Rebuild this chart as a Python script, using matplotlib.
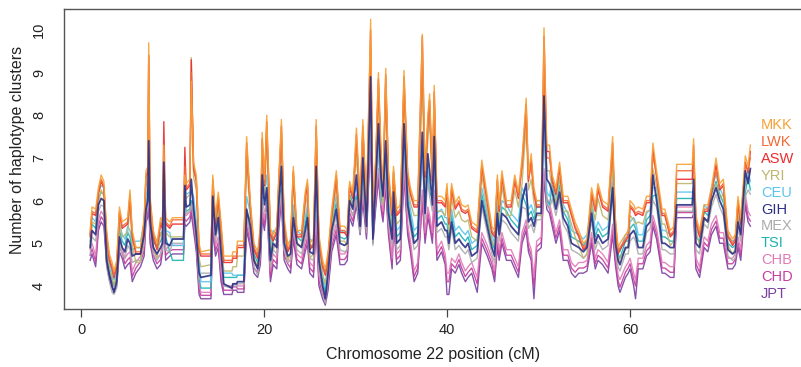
import matplotlib
matplotlib.use("Agg")
import matplotlib.pyplot as plt

plt.rcParams['font.family'] = ['Liberation Sans', 'DejaVu Sans']

position_cM = [
    1.0, 1.2, 1.6, 1.9, 2.2, 2.5, 2.8, 3.1, 3.4, 3.6,
    3.9, 4.2, 4.5, 4.8, 5.1, 5.35, 5.6, 6.0, 6.5, 6.9,
    7.1, 7.3, 7.4, 7.55, 7.9, 8.3, 8.7, 8.9, 9.05, 9.25,
    9.7, 10.0, 11.2, 11.35, 11.5, 11.9, 12.05, 12.3, 12.6, 12.9,
    13.1, 14.2, 14.4, 14.7, 15.0, 15.3, 15.6, 16.5, 16.6, 17.0,
    17.1, 17.8, 18.1, 18.5, 18.9, 19.3, 19.6, 19.8, 20.05, 20.3,
    20.7, 21.0, 21.4, 21.6, 21.9, 22.2, 22.6, 22.9, 23.2, 23.6,
    24.1, 24.5, 24.75, 25.0, 25.4, 25.7, 26.0, 26.4, 26.7, 27.0,
    27.4, 27.9, 28.3, 28.8, 29.1, 29.35, 29.7, 30.1, 30.5, 30.8,
    31.2, 31.65, 31.9, 32.2, 32.5, 32.8, 33.0, 33.3, 33.6, 34.0,
    34.15, 34.5, 34.9, 35.3, 35.7, 36.0, 36.4, 36.8, 37.3, 37.6,
    37.9, 38.1, 38.4, 38.6, 38.9, 39.4, 39.8, 40.0, 40.2, 40.5,
    40.9, 41.3, 41.6, 42.0, 42.3, 42.7, 43.3, 43.8, 44.4, 44.9,
    45.2, 45.5, 45.7, 46.0, 46.5, 47.0, 47.4, 47.8, 48.2, 48.65,
    48.9, 49.2, 49.5, 49.8, 50.3, 50.6, 50.9, 51.2, 51.5, 51.9,
    52.3, 52.7, 53.2, 53.6, 54.0, 54.4, 54.9, 55.3, 55.8, 56.2,
    56.5, 57.0, 57.6, 58.1, 58.4, 58.7, 58.9, 59.5, 59.8, 60.0,
    60.4, 60.6, 60.9, 61.4, 61.8, 62.2, 62.5, 62.9, 63.5, 63.8,
    64.4, 64.8, 65.1, 66.8, 66.95, 67.2, 67.6, 68.1, 68.5, 68.9,
    69.4, 69.8, 70.2, 70.7, 71.2, 71.5, 71.8, 72.1, 72.6, 72.9, 73.15,
]

MKK = [
    5.3, 5.85, 5.8, 6.3, 6.6, 6.45, 5.3, 4.75, 4.55, 4.35,
    4.6, 5.85, 5.5, 5.55, 5.6, 6.25, 5.3, 4.9, 4.9, 5.6,
    6.7, 6.8, 9.7, 6.1, 5.3, 5.0, 5.6, 5.5, 7.3, 5.6,
    5.5, 5.6, 5.6, 6.6, 6.4, 6.5, 8.8, 6.9, 6.6, 5.0,
    4.8, 4.85, 6.6, 5.6, 6.2, 5.5, 4.7, 4.7, 4.8, 4.8,
    5.05, 5.05, 7.5, 6.0, 5.0, 4.8, 5.4, 7.6, 6.5, 8.0,
    5.35, 5.2, 5.4, 6.5, 7.9, 5.6, 4.95, 5.1, 6.8, 5.3,
    5.3, 6.2, 6.5, 5.0, 5.1, 7.9, 5.2, 4.6, 4.4, 4.8,
    5.8, 6.7, 5.4, 5.4, 5.3, 6.45, 6.2, 7.7, 6.0, 7.9,
    5.9, 10.25, 6.0, 7.0, 9.0, 7.1, 6.3, 9.1, 6.7, 5.8,
    6.8, 5.8, 5.9, 9.05, 6.7, 6.3, 6.0, 6.0, 9.9, 6.7,
    8.0, 8.5, 6.6, 8.7, 6.1, 6.1, 6.0, 6.4, 5.6, 6.4,
    5.95, 6.1, 5.9, 5.85, 5.9, 5.5, 5.4, 6.95, 6.1, 5.4,
    5.3, 6.6, 5.9, 6.7, 6.0, 6.0, 6.6, 6.2, 7.0, 8.4,
    6.6, 7.1, 6.3, 6.0, 6.0, 10.05, 7.3, 7.3, 6.6, 6.3,
    6.9, 6.1, 6.1, 5.8, 5.5, 5.3, 5.0, 5.1, 6.3, 5.9,
    6.4, 6.0, 5.9, 7.5, 5.6, 4.9, 5.0, 5.2, 5.3, 6.0,
    5.9, 5.8, 5.85, 5.8, 6.1, 6.1, 7.35, 6.7, 5.8, 5.8,
    5.3, 5.4, 6.85, 6.85, 7.45, 5.65, 5.3, 5.9, 5.9, 6.3,
    7.0, 6.4, 6.5, 5.3, 5.1, 5.2, 6.1, 5.6, 7.05, 6.8, 7.3,
]

LWK = [
    5.2, 5.75, 5.7, 6.2, 6.5, 6.35, 5.2, 4.65, 4.45, 4.25,
    4.5, 5.75, 5.4, 5.45, 5.5, 6.15, 5.2, 4.8, 4.8, 5.5,
    6.6, 6.7, 9.4, 6.0, 5.2, 4.9, 5.5, 5.4, 7.0, 5.5,
    5.4, 5.55, 5.55, 6.8, 6.3, 6.4, 9.0, 6.8, 6.5, 4.9,
    4.75, 4.75, 6.5, 5.5, 6.1, 5.4, 4.6, 4.6, 4.7, 4.7,
    4.95, 4.95, 7.2, 5.9, 4.9, 4.7, 5.3, 7.3, 6.4, 7.7,
    5.25, 5.1, 5.3, 6.4, 7.6, 5.5, 4.85, 5.0, 6.7, 5.2,
    5.2, 6.1, 6.4, 4.9, 5.0, 7.6, 5.1, 4.5, 4.3, 4.7,
    5.7, 6.6, 5.3, 5.3, 5.2, 6.35, 6.1, 7.4, 5.9, 7.6,
    5.8, 9.6, 5.9, 6.7, 8.7, 6.8, 6.2, 8.8, 6.6, 5.7,
    6.7, 5.7, 5.8, 8.75, 6.6, 6.2, 5.9, 5.9, 9.2, 6.6,
    7.7, 8.2, 6.5, 8.4, 6.0, 6.0, 5.9, 6.3, 5.5, 6.3,
    5.85, 6.0, 5.8, 5.75, 5.8, 5.4, 5.3, 6.85, 6.0, 5.3,
    5.2, 6.5, 5.8, 6.6, 5.9, 5.9, 6.5, 6.1, 6.8, 8.1,
    6.5, 6.8, 6.2, 5.9, 5.9, 9.3, 7.0, 7.0, 6.5, 6.2,
    6.8, 6.0, 6.0, 5.7, 5.4, 5.2, 4.9, 5.0, 6.2, 5.8,
    6.3, 5.9, 5.8, 7.2, 5.5, 4.8, 4.9, 5.1, 5.2, 5.9,
    5.8, 5.7, 5.75, 5.7, 6.0, 6.0, 7.05, 6.6, 5.7, 5.7,
    5.2, 5.3, 6.7, 6.7, 7.15, 5.55, 5.2, 5.8, 5.8, 6.2,
    6.7, 6.3, 6.4, 5.2, 5.0, 5.1, 6.0, 5.5, 6.85, 6.7, 7.0,
]

ASW = [
    5.15, 5.7, 5.65, 6.15, 6.45, 6.3, 5.15, 4.6, 4.4, 4.2,
    4.45, 5.7, 5.35, 5.4, 5.45, 6.1, 5.15, 4.75, 4.75, 5.45,
    6.55, 6.65, 9.4, 5.95, 5.15, 4.85, 5.45, 5.35, 7.85, 5.45,
    5.35, 5.45, 5.45, 7.25, 6.25, 6.35, 9.3, 6.75, 6.45, 4.85,
    4.7, 4.7, 6.45, 5.45, 6.05, 5.35, 4.55, 4.55, 4.65, 4.65,
    4.9, 4.9, 7.35, 5.85, 4.85, 4.65, 5.25, 7.45, 6.35, 7.85,
    5.2, 5.05, 5.25, 6.35, 7.75, 5.45, 4.8, 4.95, 6.65, 5.15,
    5.15, 6.05, 6.35, 4.85, 4.95, 7.75, 5.05, 4.45, 4.25, 4.65,
    5.65, 6.55, 5.25, 5.25, 5.15, 6.3, 6.05, 7.55, 5.85, 7.75,
    5.75, 10.0, 5.85, 6.85, 8.85, 6.95, 6.15, 8.95, 6.55, 5.65,
    6.65, 5.65, 5.75, 8.9, 6.55, 6.15, 5.85, 5.85, 9.85, 6.55,
    7.85, 8.35, 6.45, 8.55, 5.95, 5.95, 5.85, 6.25, 5.45, 6.25,
    5.8, 5.95, 5.75, 5.7, 5.75, 5.35, 5.25, 6.8, 5.95, 5.25,
    5.15, 6.45, 5.75, 6.55, 5.85, 5.85, 6.45, 6.05, 6.85, 8.25,
    6.45, 6.95, 6.15, 5.85, 5.85, 9.85, 7.15, 7.15, 6.45, 6.15,
    6.75, 5.95, 5.95, 5.65, 5.35, 5.15, 4.85, 4.95, 6.15, 5.75,
    6.25, 5.85, 5.75, 7.35, 5.45, 4.75, 4.85, 5.05, 5.15, 5.85,
    5.75, 5.65, 5.7, 5.65, 5.95, 5.95, 7.2, 6.55, 5.65, 5.65,
    5.15, 5.25, 6.5, 6.5, 7.3, 5.5, 5.15, 5.75, 5.75, 6.15,
    6.85, 6.25, 6.35, 5.15, 4.95, 5.05, 5.95, 5.45, 6.9, 6.65, 7.15,
]

YRI = [
    4.95, 5.5, 5.45, 5.95, 6.25, 6.1, 4.95, 4.4, 4.2, 4.0,
    4.25, 5.5, 5.15, 5.2, 5.25, 5.9, 4.95, 4.55, 4.55, 5.25,
    6.35, 6.45, 8.3, 5.75, 4.95, 4.65, 5.25, 5.15, 6.7, 5.25,
    5.15, 5.15, 5.15, 6.25, 6.05, 6.15, 9.35, 6.55, 6.25, 4.65,
    4.45, 4.5, 6.25, 5.25, 5.85, 5.15, 4.35, 4.35, 4.45, 4.45,
    4.7, 4.7, 6.9, 5.65, 4.65, 4.45, 5.05, 7.0, 6.15, 7.4,
    5.0, 4.85, 5.05, 6.15, 7.3, 5.25, 4.6, 4.75, 6.45, 4.95,
    4.95, 5.85, 6.15, 4.65, 4.75, 7.3, 4.85, 4.25, 4.05, 4.45,
    5.45, 6.35, 5.05, 5.05, 4.95, 6.1, 5.85, 7.1, 5.65, 7.3,
    5.55, 9.0, 5.65, 6.4, 8.4, 6.5, 5.95, 8.5, 6.35, 5.45,
    6.45, 5.45, 5.55, 8.45, 6.35, 5.95, 5.65, 5.65, 8.6, 6.35,
    7.4, 7.9, 6.25, 8.1, 5.75, 5.75, 5.65, 6.05, 5.25, 6.05,
    5.6, 5.75, 5.55, 5.5, 5.55, 5.15, 5.05, 6.6, 5.75, 5.05,
    4.95, 6.25, 5.55, 6.35, 5.65, 5.65, 6.25, 5.85, 6.4, 7.8,
    6.25, 6.5, 5.95, 5.65, 5.65, 8.8, 6.7, 6.7, 6.25, 5.95,
    6.55, 5.75, 5.75, 5.45, 5.15, 4.95, 4.65, 4.75, 5.95, 5.55,
    6.05, 5.65, 5.55, 6.9, 5.25, 4.55, 4.65, 4.85, 4.95, 5.65,
    5.55, 5.45, 5.5, 5.45, 5.75, 5.75, 6.75, 6.35, 5.45, 5.45,
    4.95, 5.05, 6.4, 6.4, 6.85, 5.3, 4.95, 5.55, 5.55, 5.95,
    6.4, 6.05, 6.15, 4.95, 4.75, 4.85, 5.75, 5.25, 6.45, 6.45, 6.7,
]

CEU = [
    5.2, 5.6, 5.5, 6.2, 6.35, 6.3, 4.9, 4.55, 4.3, 4.15,
    4.4, 5.45, 5.2, 5.1, 5.4, 5.3, 5.0, 5.05, 5.05, 5.5,
    6.1, 6.3, 7.0, 5.8, 5.2, 5.05, 5.2, 5.3, 6.6, 5.3,
    5.25, 4.95, 4.95, 6.5, 6.15, 6.2, 6.2, 6.1, 5.5, 4.6,
    4.1, 4.1, 6.2, 5.5, 5.9, 5.1, 4.3, 4.3, 4.25, 4.25,
    4.25, 4.25, 6.1, 5.7, 4.9, 4.7, 5.2, 6.3, 6.2, 6.6,
    4.9, 5.3, 5.2, 6.2, 6.5, 5.3, 5.0, 5.05, 5.9, 5.3,
    5.2, 5.6, 5.9, 5.1, 5.05, 6.5, 4.9, 4.3, 4.0, 4.6,
    5.6, 6.1, 5.3, 5.25, 5.3, 6.3, 6.1, 6.3, 5.7, 6.7,
    5.7, 8.6, 5.4, 6.7, 7.5, 6.2, 6.4, 7.1, 6.0, 5.4,
    6.5, 5.3, 5.4, 7.5, 6.2, 5.8, 5.3, 5.4, 7.3, 6.0,
    6.8, 6.4, 6.2, 7.2, 5.7, 5.8, 5.6, 5.6, 5.3, 5.8,
    5.3, 5.4, 5.3, 5.2, 5.3, 5.0, 5.1, 6.3, 5.7, 5.2,
    5.0, 6.0, 5.5, 6.0, 5.9, 5.7, 5.6, 5.5, 6.3, 6.1,
    5.8, 5.9, 5.7, 6.0, 6.0, 8.15, 6.2, 6.1, 6.5, 6.1,
    6.5, 5.9, 5.7, 5.3, 5.25, 5.2, 5.1, 5.2, 6.0, 5.3,
    5.5, 5.3, 5.4, 6.6, 5.3, 4.9, 4.8, 5.2, 5.2, 5.5,
    5.6, 5.5, 5.2, 5.2, 5.7, 5.8, 6.3, 6.3, 5.3, 5.3,
    5.2, 5.2, 6.2, 6.2, 6.2, 5.3, 5.2, 5.9, 5.8, 6.3,
    6.6, 6.3, 6.1, 5.15, 5.05, 5.1, 5.8, 5.5, 6.4, 6.7, 6.45,
]

GIH = [
    4.9, 5.3, 5.2, 5.9, 6.05, 6.0, 4.6, 4.25, 4.0, 3.85,
    4.1, 5.15, 4.9, 4.8, 5.1, 5.0, 4.7, 4.75, 4.75, 5.2,
    5.8, 6.0, 7.4, 5.5, 4.9, 4.75, 4.9, 5.0, 6.9, 5.0,
    4.95, 5.1, 5.1, 6.35, 5.85, 5.9, 6.5, 5.8, 5.2, 4.3,
    4.2, 4.25, 6.1, 5.2, 5.6, 4.8, 4.05, 3.95, 4.05, 4.05,
    4.1, 4.1, 5.8, 5.4, 4.6, 4.4, 4.9, 6.6, 5.9, 6.3,
    4.6, 5.0, 4.9, 5.9, 6.8, 5.0, 4.7, 4.75, 5.6, 5.0,
    4.9, 5.3, 5.6, 4.8, 4.75, 6.8, 4.6, 4.0, 3.7, 4.3,
    5.3, 5.8, 5.0, 4.95, 5.0, 6.0, 5.8, 6.6, 5.4, 7.0,
    5.4, 8.9, 5.1, 6.4, 7.8, 6.5, 6.1, 7.4, 5.7, 5.1,
    6.2, 5.0, 5.1, 7.8, 5.9, 5.5, 5.0, 5.1, 7.6, 5.7,
    7.1, 6.7, 5.9, 7.5, 5.4, 5.5, 5.3, 5.3, 5.0, 5.5,
    5.0, 5.1, 5.0, 4.9, 5.0, 4.7, 4.8, 6.0, 5.4, 4.9,
    4.7, 5.7, 5.2, 5.7, 5.6, 5.4, 5.3, 5.2, 6.0, 6.4,
    5.5, 5.6, 5.4, 5.7, 5.7, 8.45, 6.5, 6.4, 6.2, 5.8,
    6.2, 5.6, 5.4, 5.0, 4.95, 4.9, 4.8, 4.9, 5.7, 5.0,
    5.2, 5.0, 5.1, 6.3, 5.0, 4.6, 4.5, 4.9, 4.9, 5.2,
    5.3, 5.2, 4.9, 4.9, 5.4, 5.5, 6.6, 6.0, 5.0, 5.0,
    4.9, 4.9, 5.9, 5.9, 6.5, 5.0, 4.9, 5.6, 5.5, 6.0,
    6.3, 6.0, 5.8, 4.85, 4.75, 4.8, 5.5, 5.2, 6.7, 6.4, 6.75,
]

MEX = [
    4.75, 5.15, 5.05, 5.75, 5.9, 5.85, 4.45, 4.1, 3.85, 3.8,
    3.95, 5.0, 4.75, 4.65, 4.95, 4.85, 4.55, 4.6, 4.6, 5.05,
    5.65, 5.85, 6.8, 5.35, 4.75, 4.6, 4.75, 4.85, 6.3, 4.85,
    4.8, 5.0, 5.0, 5.9, 5.7, 5.75, 5.9, 5.65, 5.05, 4.15,
    4.3, 4.3, 5.95, 5.05, 5.45, 4.65, 4.0, 3.95, 4.0, 4.0,
    4.05, 4.05, 5.65, 5.25, 4.45, 4.25, 4.75, 6.0, 5.75, 5.7,
    4.45, 4.85, 4.75, 5.75, 6.2, 4.85, 4.55, 4.6, 5.45, 4.85,
    4.75, 5.15, 5.45, 4.65, 4.6, 6.2, 4.45, 3.85, 3.6, 4.15,
    5.15, 5.65, 4.85, 4.8, 4.85, 5.85, 5.65, 6.0, 5.25, 6.4,
    5.25, 8.3, 4.95, 6.25, 7.2, 5.9, 5.95, 6.8, 5.55, 4.95,
    6.05, 4.85, 4.95, 7.2, 5.75, 5.35, 4.85, 4.95, 7.0, 5.55,
    6.5, 6.1, 5.75, 6.9, 5.25, 5.35, 5.15, 5.15, 4.85, 5.35,
    4.85, 4.95, 4.85, 4.75, 4.85, 4.55, 4.65, 5.85, 5.25, 4.75,
    4.55, 5.55, 5.05, 5.55, 5.45, 5.25, 5.15, 5.05, 5.85, 5.8,
    5.35, 5.45, 5.25, 5.55, 5.55, 7.85, 5.9, 5.8, 6.05, 5.65,
    6.05, 5.45, 5.25, 4.85, 4.8, 4.75, 4.65, 4.75, 5.55, 4.85,
    5.05, 4.85, 4.95, 6.15, 4.85, 4.45, 4.35, 4.75, 4.75, 5.05,
    5.15, 5.05, 4.75, 4.75, 5.25, 5.35, 6.0, 5.85, 4.85, 4.85,
    4.75, 4.75, 5.75, 5.75, 5.9, 4.85, 4.75, 5.45, 5.35, 5.85,
    6.15, 5.85, 5.65, 4.7, 4.6, 4.65, 5.35, 5.05, 6.1, 6.25, 6.15,
]

TSI = [
    5.05, 5.45, 5.35, 6.05, 6.2, 6.15, 4.75, 4.4, 4.15, 4.0,
    4.25, 5.3, 5.05, 4.95, 5.25, 5.15, 4.85, 4.9, 4.9, 5.35,
    5.95, 6.15, 6.6, 5.65, 5.05, 4.9, 5.05, 5.15, 6.4, 5.15,
    4.8, 4.6, 4.6, 6.0, 5.75, 5.8, 6.0, 5.9, 5.35, 4.2,
    3.95, 3.95, 6.0, 5.35, 5.75, 4.95, 4.2, 4.2, 4.2, 4.2,
    4.25, 4.25, 5.7, 5.55, 4.75, 4.55, 5.05, 6.1, 6.05, 6.0,
    4.75, 5.15, 5.05, 6.05, 6.3, 5.15, 4.85, 4.9, 5.75, 5.15,
    5.05, 5.45, 5.75, 4.95, 4.9, 6.3, 4.75, 4.15, 3.85, 4.45,
    5.45, 5.95, 5.15, 5.1, 5.15, 6.15, 5.95, 6.1, 5.55, 6.5,
    5.55, 8.4, 5.25, 6.55, 7.3, 6.0, 6.25, 6.9, 5.85, 5.25,
    6.35, 5.15, 5.25, 7.3, 6.05, 5.65, 5.15, 5.25, 7.1, 5.85,
    6.6, 6.2, 6.05, 7.0, 5.55, 5.65, 5.45, 5.45, 5.15, 5.65,
    5.15, 5.25, 5.15, 5.05, 5.15, 4.85, 4.95, 6.15, 5.55, 5.05,
    4.85, 5.85, 5.35, 5.85, 5.75, 5.55, 5.45, 5.35, 6.15, 5.9,
    5.65, 5.75, 5.55, 5.85, 5.85, 7.95, 6.0, 5.9, 6.35, 5.95,
    6.35, 5.75, 5.55, 5.15, 5.1, 5.05, 4.95, 5.05, 5.85, 5.15,
    5.35, 5.15, 5.25, 6.4, 5.15, 4.75, 4.65, 5.05, 5.05, 5.35,
    5.45, 5.35, 5.05, 5.05, 5.55, 5.65, 6.1, 6.15, 5.15, 5.15,
    5.05, 5.05, 6.05, 6.05, 6.0, 5.15, 5.05, 5.75, 5.65, 6.15,
    6.45, 6.15, 5.95, 5.0, 4.9, 4.95, 5.65, 5.35, 6.2, 6.55, 6.25,
]

CHB = [
    4.85, 5.0, 4.7, 5.55, 5.75, 5.65, 4.75, 4.4, 4.2, 4.15,
    4.25, 5.05, 4.9, 4.65, 4.75, 4.8, 4.35, 4.55, 4.7, 4.95,
    5.75, 5.85, 6.25, 5.25, 4.85, 4.65, 4.75, 5.05, 5.75, 4.85,
    4.95, 4.95, 4.95, 5.7, 5.65, 5.75, 5.95, 5.55, 5.05, 4.05,
    3.85, 3.85, 5.55, 4.95, 5.15, 4.35, 4.0, 4.0, 4.05, 4.05,
    4.0, 4.0, 5.55, 5.15, 4.55, 4.45, 4.75, 5.85, 5.55, 6.15,
    4.35, 4.75, 4.65, 5.55, 6.25, 4.85, 4.65, 4.55, 5.35, 4.75,
    4.65, 5.05, 5.25, 4.55, 4.45, 5.65, 4.25, 3.95, 3.8, 4.15,
    5.05, 5.45, 4.75, 4.75, 4.85, 5.85, 5.65, 6.15, 5.45, 6.25,
    5.35, 7.85, 5.25, 6.05, 6.75, 6.05, 5.75, 6.55, 5.45, 4.65,
    5.75, 4.75, 4.85, 6.85, 5.45, 5.05, 4.35, 4.55, 6.25, 5.25,
    5.85, 5.65, 5.25, 6.25, 4.85, 5.05, 4.75, 4.3, 4.3, 4.65,
    4.55, 4.75, 4.55, 4.35, 4.45, 4.55, 4.2, 5.25, 4.95, 4.65,
    4.35, 5.15, 4.85, 5.25, 4.85, 4.85, 4.65, 4.45, 5.25, 5.55,
    5.05, 4.85, 4.2, 5.05, 5.15, 6.75, 6.05, 5.95, 5.65, 5.25,
    5.55, 4.85, 4.85, 4.55, 4.45, 4.55, 4.55, 4.6, 5.25, 4.65,
    4.85, 4.75, 4.55, 5.45, 4.75, 4.25, 4.15, 4.45, 4.55, 4.65,
    4.3, 4.15, 4.65, 4.65, 4.95, 5.05, 5.65, 5.35, 4.55, 4.55,
    4.45, 4.45, 5.85, 5.85, 5.95, 4.65, 4.45, 5.15, 5.05, 5.45,
    5.65, 5.25, 5.25, 4.65, 4.65, 4.75, 5.15, 4.85, 6.15, 5.75, 5.65,
]

CHD = [
    4.72, 4.87, 4.57, 5.42, 5.62, 5.52, 4.62, 4.27, 4.07, 4.02,
    4.12, 4.92, 4.77, 4.52, 4.62, 4.67, 4.22, 4.42, 4.57, 4.82,
    5.62, 5.72, 6.12, 5.12, 4.72, 4.52, 4.62, 4.92, 5.62, 4.72,
    4.82, 4.85, 4.85, 5.57, 5.52, 5.62, 5.82, 5.42, 4.92, 3.92,
    3.78, 3.78, 5.42, 4.82, 5.02, 4.22, 3.9, 3.9, 3.98, 3.98,
    3.93, 3.93, 5.42, 5.02, 4.42, 4.32, 4.62, 5.72, 5.42, 6.02,
    4.22, 4.62, 4.52, 5.42, 6.12, 4.72, 4.52, 4.42, 5.22, 4.62,
    4.52, 4.92, 5.12, 4.42, 4.32, 5.52, 4.12, 3.82, 3.65, 4.02,
    4.92, 5.32, 4.62, 4.62, 4.72, 5.72, 5.52, 6.02, 5.32, 6.12,
    5.22, 7.72, 5.12, 5.92, 6.62, 5.92, 5.62, 6.42, 5.32, 4.52,
    5.62, 4.62, 4.72, 6.72, 5.32, 4.92, 4.22, 4.42, 6.12, 5.12,
    5.72, 5.52, 5.12, 6.12, 4.72, 4.92, 4.62, 4.1, 4.1, 4.52,
    4.42, 4.62, 4.42, 4.22, 4.32, 4.42, 4.05, 5.12, 4.82, 4.52,
    4.22, 5.02, 4.72, 5.12, 4.72, 4.72, 4.52, 4.32, 5.12, 5.42,
    4.92, 4.72, 4.0, 4.92, 5.02, 6.62, 5.92, 5.82, 5.52, 5.12,
    5.42, 4.72, 4.72, 4.42, 4.32, 4.42, 4.42, 4.47, 5.12, 4.52,
    4.72, 4.62, 4.42, 5.32, 4.62, 4.12, 3.97, 4.32, 4.42, 4.52,
    4.15, 4.0, 4.52, 4.52, 4.82, 4.92, 5.52, 5.22, 4.42, 4.42,
    4.32, 4.32, 5.72, 5.72, 5.82, 4.52, 4.32, 5.02, 4.92, 5.32,
    5.52, 5.12, 5.12, 4.52, 4.52, 4.62, 5.02, 4.72, 6.02, 5.62, 5.52,
]

JPT = [
    4.6, 4.75, 4.45, 5.3, 5.5, 5.4, 4.5, 4.15, 3.95, 3.9,
    4.0, 4.8, 4.65, 4.4, 4.5, 4.55, 4.1, 4.3, 4.45, 4.7,
    5.5, 5.6, 6.0, 5.0, 4.6, 4.4, 4.5, 4.8, 5.5, 4.6,
    4.7, 4.75, 4.75, 5.45, 5.4, 5.5, 5.7, 5.3, 4.8, 3.8,
    3.7, 3.7, 5.3, 4.7, 4.9, 4.1, 3.8, 3.8, 3.9, 3.9,
    3.85, 3.85, 5.3, 4.9, 4.3, 4.2, 4.5, 5.6, 5.3, 5.9,
    4.1, 4.5, 4.4, 5.3, 6.0, 4.6, 4.4, 4.3, 5.1, 4.5,
    4.4, 4.8, 5.0, 4.3, 4.2, 5.4, 4.0, 3.7, 3.55, 3.9,
    4.8, 5.2, 4.5, 4.5, 4.6, 5.6, 5.4, 5.9, 5.2, 6.0,
    5.1, 7.6, 5.0, 5.8, 6.5, 5.8, 5.5, 6.3, 5.2, 4.4,
    5.5, 4.5, 4.6, 6.6, 5.2, 4.8, 4.1, 4.3, 6.0, 5.0,
    5.6, 5.4, 5.0, 6.0, 4.6, 4.8, 4.5, 3.8, 3.8, 4.4,
    4.3, 4.5, 4.3, 4.1, 4.2, 4.3, 3.85, 5.0, 4.7, 4.4,
    4.1, 4.9, 4.6, 5.0, 4.6, 4.6, 4.4, 4.2, 5.0, 5.3,
    4.8, 4.6, 3.7, 4.8, 4.9, 6.5, 5.8, 5.7, 5.4, 5.0,
    5.3, 4.6, 4.6, 4.3, 4.2, 4.3, 4.3, 4.35, 5.0, 4.4,
    4.6, 4.5, 4.3, 5.2, 4.5, 4.0, 3.85, 4.2, 4.3, 4.4,
    4.0, 3.7, 4.4, 4.4, 4.7, 4.8, 5.4, 5.1, 4.3, 4.3,
    4.2, 4.2, 5.6, 5.6, 5.7, 4.4, 4.2, 4.9, 4.8, 5.2,
    5.4, 5.0, 5.0, 4.4, 4.4, 4.5, 4.9, 4.6, 5.9, 5.5, 5.4,
]

populations = ['MKK', 'LWK', 'ASW', 'YRI', 'CEU', 'GIH', 'MEX', 'TSI', 'CHB', 'CHD', 'JPT']
series = {'MKK': MKK, 'LWK': LWK, 'ASW': ASW, 'YRI': YRI, 'CEU': CEU, 'GIH': GIH,
          'MEX': MEX, 'TSI': TSI, 'CHB': CHB, 'CHD': CHD, 'JPT': JPT}
colors = {'MKK': '#F8A035', 'LWK': '#F26A36', 'ASW': '#EC2A2E', 'YRI': '#BDB66E',
          'CEU': '#5CC4EC', 'GIH': '#2C2F85', 'MEX': '#ABABAB', 'TSI': '#1DB3B1',
          'CHB': '#E07BB8', 'CHD': '#C43E9E', 'JPT': '#7A3FA0'}

W, H = 801, 367
fig = plt.figure(figsize=(W / 100, H / 100), dpi=100)
ax = fig.add_axes([64 / W, 1 - 309 / H, (809 - 64) / W, 300 / H])

draw_order = ['JPT', 'CHD', 'CHB', 'TSI', 'MEX', 'CEU', 'YRI', 'ASW', 'LWK', 'MKK', 'GIH']
for i, name in enumerate(draw_order):
    ax.plot(position_cM, series[name], color=colors[name],
            lw=1.3 if name == 'GIH' else 1.0, alpha=0.9, zorder=2 + i)

ax.set_xlim(-1.86, 79.56)
ax.set_ylim(3.46, 10.49)
ax.set_xticks([0, 20, 40, 60])
ax.set_yticks([4, 5, 6, 7, 8, 9, 10])
ax.tick_params(axis='x', direction='out', length=6, width=0.9, color='#444444',
               labelsize=10.5, pad=4, labelcolor='#222222')
ax.tick_params(axis='y', length=0, labelsize=10.5, pad=13, labelrotation=90,
               labelcolor='#222222')
for lab in ax.get_yticklabels():
    lab.set_va('center')
for sp in ax.spines.values():
    sp.set_color('#555555')
    sp.set_linewidth(1.0)

fig.text(18 / W, 1 - 150 / H, 'Number of haplotype clusters', rotation=90,
         ha='center', va='center', fontsize=11.5, color='#222222')
fig.text(433 / W, 1 - 355 / H, 'Chromosome 22 position (cM)',
         ha='center', va='center', fontsize=11.5, color='#222222')

for i, name in enumerate(populations):
    fig.text(761 / W, 1 - (125 + 16.9 * i) / H, name, color=colors[name],
             ha='left', va='center', fontsize=10.5)

fig.savefig('out.png', dpi=100)
